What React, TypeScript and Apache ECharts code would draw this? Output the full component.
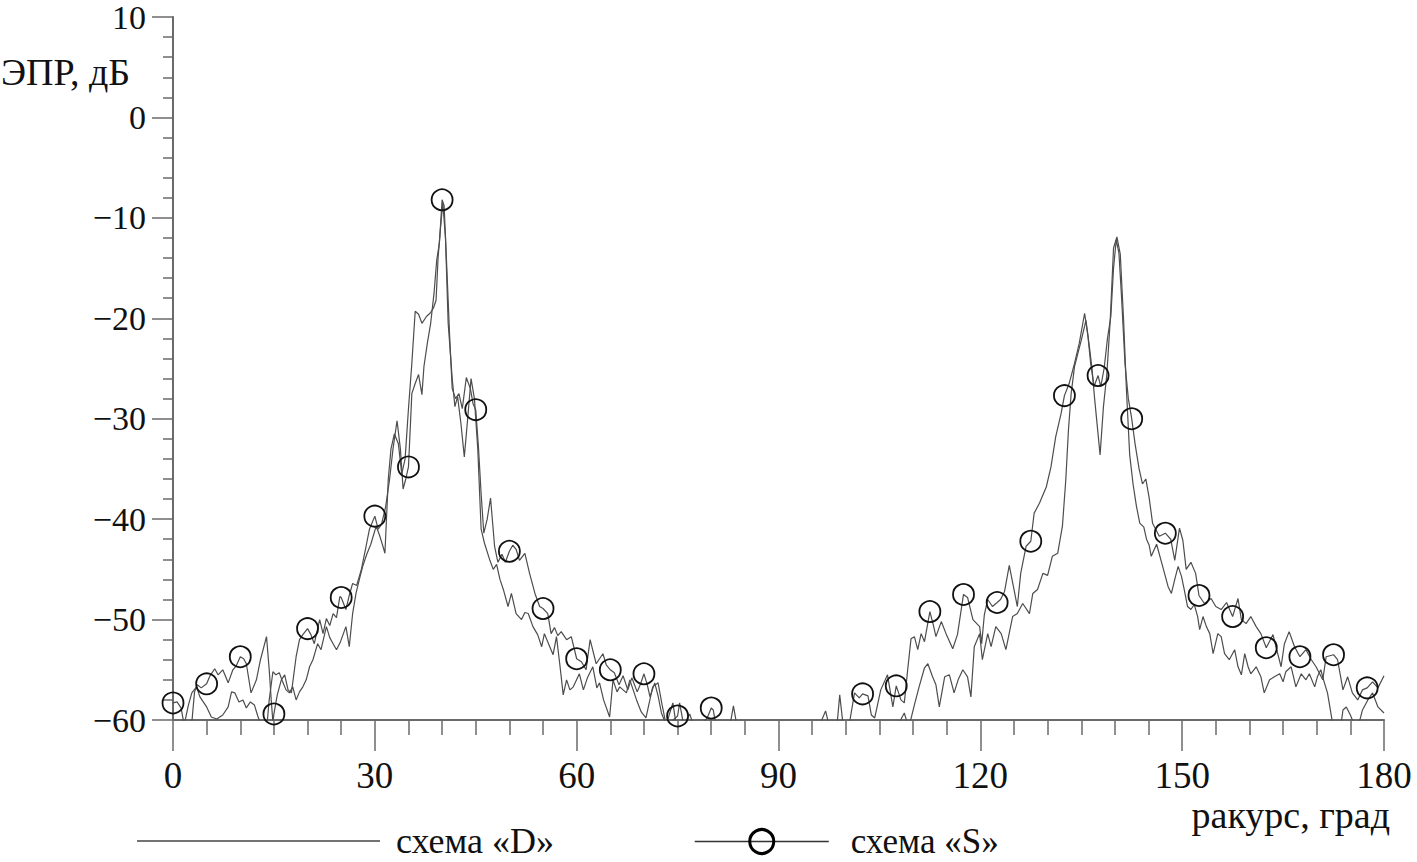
import React, { useEffect, useRef } from "react";
import * as echarts from "echarts";

const NAME_D = "схема «D»";
const NAME_S = "схема «S»";
const Y_TITLE = "ЭПР, дБ";
const X_TITLE = "ракурс, град";

// angles (deg) where the «S» curve carries a circle marker
const MARKER_ANGLES = [
  0, 5, 10, 15, 20, 25, 30, 35, 40, 45, 50, 55, 60, 65, 70, 75, 80,
  102.5, 107.5, 112.5, 117.5, 122.5, 127.5, 132.5, 137.5, 142.5, 147.5,
  152.5, 157.5, 162.5, 167.5, 172.5, 177.5,
];

// [angle, dB] – scheme «S»
const S_POINTS: [number, number][] = [
  [0, -58.3], [0.6, -58.2], [1.2, -58.8], [1.8, -61], [2.7, -61], [3.2, -57.2], [3.6, -56.5], [4.2, -56.8],
  [5, -56.4], [5.5, -55.6], [6.2, -54.9], [6.7, -55.5], [7.4, -55], [8.2, -56.3], [8.9, -55], [9.4, -54.6],
  [10, -53.7], [10.5, -53.9], [10.9, -54.4], [11.6, -57.3], [12.4, -56], [13, -54], [13.9, -51.7], [14.3, -55],
  [14.6, -58], [14.85, -60.2], [15, -59.4], [15.5, -57.5], [16.1, -56], [16.6, -55.5], [17.1, -57], [17.6, -57.3],
  [18.3, -53.7], [18.8, -52], [19.3, -51.5], [20, -50.9], [20.5, -51.5], [21, -52.4], [21.8, -50], [22.3, -51.4],
  [22.8, -49.9], [23.3, -50.6], [23.8, -49.4], [24.3, -49.8], [24.8, -47.7], [25, -47.8], [25.7, -49], [26.2, -47.6],
  [26.7, -46.4], [27.3, -46.6], [28, -45], [28.7, -42.7], [29.2, -41], [30, -39.7], [30.5, -41], [31, -40.5],
  [31.6, -38.8], [32.2, -36], [32.7, -33], [33.3, -30.2], [33.8, -33], [34.2, -37], [34.6, -36], [35, -34.8],
  [35.5, -27.5], [36, -26.5], [36.5, -25.6], [37, -27.6], [37.3, -24.8], [37.8, -22.5], [38.3, -20.5], [38.8, -17.5],
  [39.2, -14.2], [39.6, -12.5], [40, -8.2], [40.3, -8.8], [40.7, -15], [41.1, -21.5], [41.5, -27], [42, -28],
  [42.5, -27.5], [43, -29], [43.6, -25.9], [44.2, -27], [44.6, -28.5], [45, -29.1], [45.4, -32.8], [45.8, -37.5],
  [46.2, -41.4], [46.7, -40], [47.2, -37.9], [47.8, -42.7], [48.3, -44.3], [48.9, -43.5], [49.4, -44.3], [50, -43.2],
  [50.5, -42.6], [51, -43], [51.5, -44.1], [52.3, -43.4], [53, -45.4], [53.8, -47.4], [54.5, -48.7], [55, -48.9],
  [55.7, -49.4], [56.2, -51.4], [56.7, -50.8], [57.2, -51.6], [57.7, -51.2], [58.5, -52], [59.2, -51.7], [60, -53.9],
  [60.7, -54.2], [61.4, -55], [62, -52], [62.9, -54.4], [63.9, -53.4], [64.4, -54.5], [65, -55], [65.6, -55.3],
  [66.3, -56.5], [66.9, -55.6], [67.6, -57], [68.2, -55.8], [69, -57.2], [69.5, -56.4], [70, -55.4], [70.5, -56.5],
  [70.9, -57.7], [71.6, -56.3], [72.1, -57.6], [72.6, -59.3], [73.3, -60.5], [74, -60.2], [75, -59.6], [75.3, -58.3],
  [75.9, -60.5], [76.8, -59.4], [77.3, -60.4], [78.5, -60.5], [79.4, -59.8], [80, -58.8], [80.3, -59], [80.7, -60.5],
  [82.8, -60.5], [83.3, -58.6], [83.8, -60.5], [85, -62], [86.6, -60.2], [87, -62], [95.5, -62], [96.3, -60.2],
  [97, -59.1], [97.5, -60.5], [98.7, -60.5], [99.1, -57.5], [99.6, -60.5], [100.5, -60.5], [101.3, -57.3], [102, -57.8],
  [102.5, -57.4], [103.3, -57.6], [103.8, -59.5], [104.3, -59.8], [105.2, -57], [106.2, -55.5], [107, -58.7], [107.5, -56.6],
  [108.2, -58], [108.7, -58.3], [109.2, -55], [109.7, -51.9], [110.2, -51.7], [110.7, -53], [111.2, -51.4], [111.7, -52.2],
  [112.5, -49.2], [113, -50.5], [113.4, -51.7], [114.2, -50.2], [114.9, -51.4], [115.9, -52.9], [116.6, -51.5], [117.5, -47.5],
  [118.1, -47.8], [118.9, -50], [119.9, -50.7], [120.2, -52.4], [120.6, -49.5], [121.1, -48], [121.8, -48.7], [122.5, -48.3],
  [123, -48], [123.6, -47.2], [124.3, -44.6], [125, -47], [125.5, -48.7], [126, -45.4], [126.8, -42.7], [127.5, -42.2],
  [128, -39.4], [128.8, -38.4], [129.8, -36.8], [130.5, -34.8], [131.2, -31.8], [132, -29.5], [132.5, -27.7], [133.2, -26.5],
  [134, -24.5], [134.7, -22.5], [135.5, -19.5], [136, -21.8], [136.4, -24.5], [136.9, -26.8], [137.5, -25.7], [137.9, -26.8],
  [138.4, -25], [138.9, -22], [139.4, -19.8], [139.8, -15], [140.2, -12.2], [140.6, -13.5], [141, -18], [141.5, -24.5],
  [142, -28], [142.5, -30], [143, -32.5], [143.6, -35], [144.1, -36.5], [144.6, -36], [145.1, -37.9], [145.6, -40.4],
  [146.6, -41.7], [147.5, -41.4], [148.3, -42], [148.9, -44.1], [149.6, -40.9], [150.1, -42.1], [150.6, -45], [151.3, -44.3],
  [152, -45.4], [152.5, -47.6], [153.3, -48.4], [154.3, -47.9], [155, -48.7], [155.8, -49], [156.6, -48.3], [157.5, -49.7],
  [158.3, -47.9], [158.8, -50], [159.5, -50.4], [160.2, -49.7], [161, -50.7], [161.7, -51.4], [162.5, -52.8], [163.5, -51.5],
  [164.2, -53.4], [164.7, -54.7], [165.2, -52.4], [165.9, -51.2], [166.7, -52.7], [167.5, -53.7], [168.4, -53], [169.2, -54],
  [169.9, -54.7], [170.9, -56], [171.4, -53.7], [172.5, -53.5], [173.1, -54], [173.9, -57], [174.6, -55.7], [175.3, -57.3],
  [176.1, -58], [176.8, -57], [177.5, -56.8], [178.3, -56.2], [179.1, -56.8], [180, -55.6],
];

// [angle, dB] – scheme «D»
const D_POINTS: [number, number][] = [
  [0, -62], [1.5, -61], [2.3, -58.5], [2.8, -57.3], [3.5, -56.7], [4, -57.7], [5, -58.7], [5.7, -59.7],
  [6.5, -59.9], [7.4, -59.5], [8.2, -58.7], [8.7, -57.2], [9.2, -57.3], [9.8, -58.2], [10.4, -58], [10.9, -58.8],
  [11.5, -58.2], [12.1, -58.5], [12.6, -59.6], [13.1, -60.5], [13.9, -61], [14.3, -58], [14.85, -55.2], [15.3, -55.5],
  [15.8, -55.3], [16.3, -56.2], [16.8, -57], [17.3, -57.3], [17.8, -56.7], [18.3, -58], [18.8, -57.2], [19.3, -56.7],
  [19.8, -56], [20.3, -54.7], [20.8, -54], [21.5, -52.4], [22, -53], [22.8, -50.7], [23.3, -51.8], [23.8, -52.4],
  [24.3, -53], [24.9, -52.2], [25.7, -50.7], [26.2, -52.7], [26.7, -49.4], [27.2, -47.4], [27.7, -46], [28.2, -44.7],
  [28.8, -43.5], [29.4, -42.5], [30.2, -40.7], [30.7, -41.6], [31.2, -42.7], [31.5, -43.4], [32, -36], [32.4, -33],
  [32.9, -31.5], [33.5, -32.5], [34, -35.5], [34.5, -34], [35, -29], [35.5, -24.5], [36, -19.3], [36.5, -19.6],
  [37, -20.5], [37.7, -19.8], [38.2, -19.5], [38.7, -19], [39.1, -18.2], [39.4, -14], [39.7, -11.5], [40.1, -8.5],
  [40.5, -12], [40.9, -20.5], [41.5, -26], [41.9, -28.8], [42.3, -27.8], [42.8, -30.5], [43.3, -33.8], [43.8, -30],
  [44.3, -26], [44.8, -28], [45.3, -33], [45.8, -41], [46.3, -42.4], [47.1, -44.1], [47.6, -45], [48.1, -44.5],
  [48.6, -46], [49.1, -47], [49.8, -48.7], [50.3, -47.4], [51, -49.4], [51.8, -50], [52.3, -49.3], [52.8, -49.4],
  [53.5, -50.7], [54.2, -51.5], [54.8, -52.7], [55.2, -51.4], [56, -52.7], [56.5, -53.5], [57, -51.7], [57.5, -54.5],
  [58, -57.5], [58.5, -56], [59, -57], [59.5, -56.7], [60.4, -55.4], [61, -57], [61.6, -55.8], [62.4, -54.7],
  [63, -56.8], [63.4, -56.3], [64, -58], [64.9, -59.7], [65.4, -56], [66, -57.2], [66.4, -56.7], [67.4, -57.3],
  [67.9, -56], [68.9, -58], [69.6, -59.2], [70.3, -59.8], [71.3, -56.7], [72.1, -56.3], [72.7, -58.5], [73.3, -60.5],
  [74.3, -58.3], [74.8, -60.5], [76, -62], [96, -62], [106, -62], [107.9, -60.5], [108.3, -59.8], [108.7, -59.3],
  [109.1, -60.2], [109.5, -60.4], [110.2, -58.5], [110.9, -56.7], [111.7, -54.8], [112.2, -54.4], [112.9, -55.7], [113.4, -56.5],
  [113.9, -58.7], [114.7, -55.7], [115.4, -55.5], [116.1, -57.3], [116.7, -56], [117.4, -55], [118.1, -55.7], [118.6, -57.7],
  [119.1, -52.7], [119.9, -51.4], [120.3, -54], [121.1, -51.4], [121.6, -52.7], [122.3, -50.7], [123.1, -51.4], [123.8, -53],
  [124.8, -49.7], [125.5, -49.4], [126.3, -48.4], [127.3, -49.4], [127.8, -47.4], [128.5, -47], [129.3, -45.4], [130, -45.6],
  [130.7, -43.7], [131.5, -43.4], [132.2, -40.7], [132.7, -36.1], [133.1, -31.1], [133.5, -27.5], [134, -24.8], [134.5, -23.5],
  [135, -22.2], [135.7, -20.2], [136.2, -22.8], [136.6, -25], [137, -28.1], [137.8, -33.6], [138.3, -28.8], [138.8, -25.6],
  [139.3, -20.3], [139.8, -13], [140.3, -11.9], [140.8, -13.6], [141.3, -20.3], [141.7, -26.9], [142.2, -33.6], [142.7, -36.5],
  [143.2, -38.7], [143.7, -40.4], [144.3, -40.8], [144.7, -42], [145.1, -42.6], [145.4, -43.7], [146.2, -42.5], [147.1, -44.7],
  [147.9, -46.7], [148.4, -47.4], [148.9, -46], [149.4, -44.7], [149.9, -45.7], [150.3, -47], [150.8, -48.7], [151.3, -49],
  [151.8, -48.5], [152.3, -49.7], [152.6, -51], [153.1, -49.7], [153.6, -50.7], [154.1, -51.4], [154.6, -53.4], [155.3, -51.4],
  [155.8, -51.7], [156.3, -53.4], [157, -54], [157.8, -53], [158.3, -54.7], [158.8, -55.5], [159.3, -53.4], [159.8, -54.7],
  [160.2, -55.4], [161, -54.7], [161.7, -55.7], [162.2, -57.3], [163, -56], [163.7, -55.7], [164.5, -55.4], [165, -56.2],
  [165.4, -55.2], [166.2, -54.7], [166.9, -56.7], [167.7, -55.4], [168.4, -56], [168.9, -55.4], [169.7, -56.7], [170.1, -55.7],
  [170.6, -55], [171.1, -56.2], [171.6, -57.3], [172.1, -59.3], [172.4, -60.5], [173.5, -61], [173.9, -59], [174.4, -58.7],
  [175, -59.5], [175.6, -60.5], [176.3, -60.3], [176.8, -59], [177.6, -58], [178.3, -57.3], [179.1, -58.7], [180, -59.3],
];

const FONT = '"Liberation Serif", "Times New Roman", serif';
const AXIS_COLOR = "#6a6a6a";
const TEXT_COLOR = "#111";
const LINE_COLOR = "#4d4d4d";

export default function App() {
  const ref = useRef<HTMLDivElement>(null);

  useEffect(() => {
    if (!ref.current) return;
    const chart = echarts.init(ref.current, null, { renderer: "svg" });

    const sData = S_POINTS.map(([x, y]) =>
      MARKER_ANGLES.includes(x) ? { value: [x, y] } : { value: [x, y], symbol: "none" }
    );
    const dData = D_POINTS.map(([x, y]) => [x, y]);

    const axisLineStyle = { color: AXIS_COLOR, width: 2 };

    chart.setOption({
      animation: false,
      backgroundColor: "#ffffff",
      grid: { left: 173, top: 17, width: 1211, height: 703, containLabel: false },
      xAxis: {
        type: "value",
        min: 0,
        max: 180,
        interval: 30,
        axisLine: { show: true, onZero: false, lineStyle: axisLineStyle },
        axisTick: { show: true, length: 31, lineStyle: { color: AXIS_COLOR, width: 1.5 } },
        minorTick: { show: true, splitNumber: 6, length: 15, lineStyle: { color: AXIS_COLOR, width: 1.5 } },
        splitLine: { show: false },
        minorSplitLine: { show: false },
        axisLabel: { fontFamily: FONT, fontSize: 37, lineHeight: 30, color: TEXT_COLOR, margin: 40 },
      },
      yAxis: {
        type: "value",
        min: -60,
        max: 10,
        interval: 10,
        axisLine: { show: true, onZero: false, lineStyle: axisLineStyle },
        axisTick: { show: true, length: 21, lineStyle: { color: AXIS_COLOR, width: 1.5 } },
        minorTick: { show: true, splitNumber: 5, length: 10, lineStyle: { color: AXIS_COLOR, width: 1.5 } },
        splitLine: { show: false },
        minorSplitLine: { show: false },
        axisLabel: {
          fontFamily: FONT,
          fontSize: 34,
          lineHeight: 28,
          color: TEXT_COLOR,
          margin: 27,
          formatter: (v: number) => (v < 0 ? "\u2212" + Math.abs(v) : String(v)),
        },
      },
      legend: [
        {
          data: [{ name: NAME_D, icon: "rect" }],
          left: 137,
          top: 823,
          padding: 0,
          itemWidth: 243,
          itemHeight: 1.5,
          itemStyle: { color: "#444" },
          textStyle: { fontFamily: FONT, fontSize: 36, lineHeight: 30, color: TEXT_COLOR, padding: [0, 0, 0, 11] },
          selectedMode: false,
        },
        {
          data: [NAME_S],
          left: 694,
          top: 824,
          padding: 0,
          itemWidth: 134,
          itemHeight: 30,
          itemStyle: { color: "transparent", borderColor: "#000", borderWidth: 3 },
          lineStyle: { color: "#333", width: 1.5 },
          textStyle: { fontFamily: FONT, fontSize: 35, lineHeight: 28, color: TEXT_COLOR, padding: [0, 0, 0, 17] },
          selectedMode: false,
        },
      ],
      graphic: [
        {
          type: "text",
          left: 1,
          top: 53,
          style: { text: Y_TITLE, font: `38px ${FONT}`, fill: TEXT_COLOR },
        },
        {
          type: "text",
          right: 27,
          top: 796,
          style: { text: X_TITLE, font: `38px ${FONT}`, fill: TEXT_COLOR },
        },
      ],
      series: [
        {
          name: NAME_D,
          type: "line",
          data: dData,
          symbol: "none",
          clip: true,
          lineStyle: { color: LINE_COLOR, width: 1.2 },
          itemStyle: { color: "#444" },
          z: 2,
        },
        {
          name: NAME_S,
          type: "line",
          data: sData,
          symbol: "circle",
          symbolSize: 21,
          showSymbol: true,
          showAllSymbol: true,
          clip: true,
          lineStyle: { color: LINE_COLOR, width: 1.2 },
          itemStyle: { color: "transparent", borderColor: "#111", borderWidth: 1.8 },
          z: 3,
        },
      ],
    });

    return () => chart.dispose();
  }, []);

  return (
    <div
      ref={ref}
      style={{ position: "fixed", left: 0, top: 0, width: 1417, height: 862, background: "#fff" }}
    />
  );
}
